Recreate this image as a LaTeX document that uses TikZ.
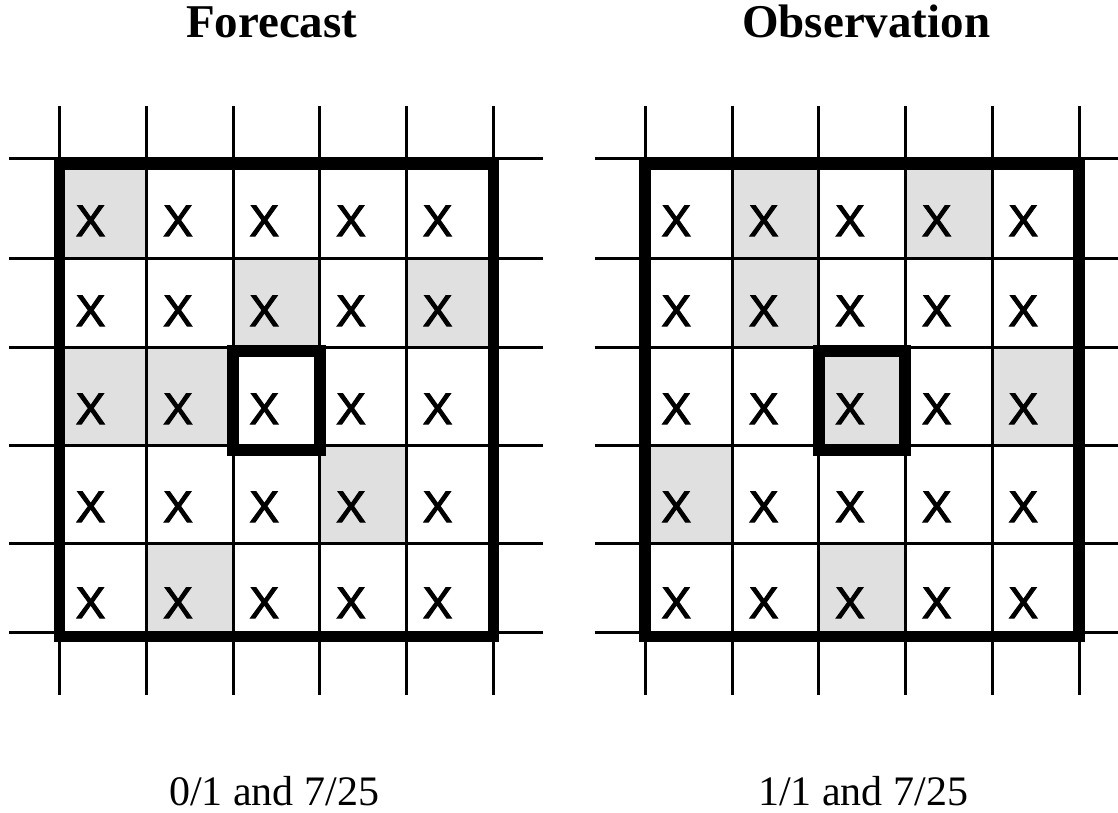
\documentclass[tikz,border=0pt]{standalone}
\usepackage{fontspec}
\setmainfont{Liberation Serif}
\newfontfamily\xfont[FakeBold=2.5]{Liberation Sans}
\definecolor{cellgray}{RGB}{224,224,224}
\def\colx{{59.3,146.7,233,319.7,406.3,493.3}}
\def\rowy{{159,258.3,347,445,543,632}}
\def\basey{{236,326,424,522,618}}
\newcommand\drawpanel[3]{%
  \begin{scope}[xshift=#1]
    \foreach \c/\r in {#2} {
      \pgfmathsetmacro\xa{\colx[\c-1]}
      \pgfmathsetmacro\xb{\colx[\c]}
      \pgfmathsetmacro\ya{\rowy[\r-1]}
      \pgfmathsetmacro\yb{\rowy[\r]}
      \fill[cellfill] (\xa,\ya) rectangle (\xb,\yb);
    }
    \foreach \i in {0,...,5} {
      \pgfmathsetmacro\xx{\colx[\i]}
      \pgfmathsetmacro\yy{\rowy[\i]}
      \draw[thin line] (\xx,106) -- (\xx,695);
      \draw[thin line] (9,\yy) -- (543,\yy);
    }
    \draw[thick box] (59.3,164) rectangle (493.3,636.5);
    \draw[center box] (233,351) rectangle (319.7,449.7);
    \foreach \r in {1,...,5} {
      \foreach \c in {1,...,5} {
        \pgfmathsetmacro\xx{\colx[\c-1]+16.4}
        \pgfmathsetmacro\yy{\basey[\r-1]}
        \node[mark x] (#3-\r-\c) at (\xx,\yy) {X};
      }
    }
  \end{scope}}
\begin{document}
\begin{tikzpicture}[x=1pt,y=-1pt,
  thin line/.style={line width=3pt},
  thick box/.style={line width=11.5pt},
  center box/.style={line width=12pt},
  cellfill/.style={fill=cellgray},
  mark x/.style={anchor=base west,inner sep=0pt,font=\xfont\fontsize{44}{50}\selectfont},
  title/.style={anchor=base,inner sep=0pt,font=\bfseries\fontsize{47}{52}\selectfont},
  caption/.style={anchor=base,inner sep=0pt,text depth=0pt,font=\fontsize{42}{46}\selectfont}]
\useasboundingbox (0,0) rectangle (1118,813);
\drawpanel{0}{1/1,3/2,5/2,1/3,2/3,4/4,2/5}{F}
\drawpanel{585.7}{2/1,4/1,2/2,3/3,5/3,1/4,3/5}{O}
\node[title] (ftitle) at (271.7,38) {Forecast};
\node[title] (otitle) at (866.3,38) {Observation};
\node[caption] (fcap) at (274,805.5) {0/1 and 7/25};
\node[caption] (ocap) at (863,805.5) {1/1 and 7/25};
\end{tikzpicture}
\end{document}
